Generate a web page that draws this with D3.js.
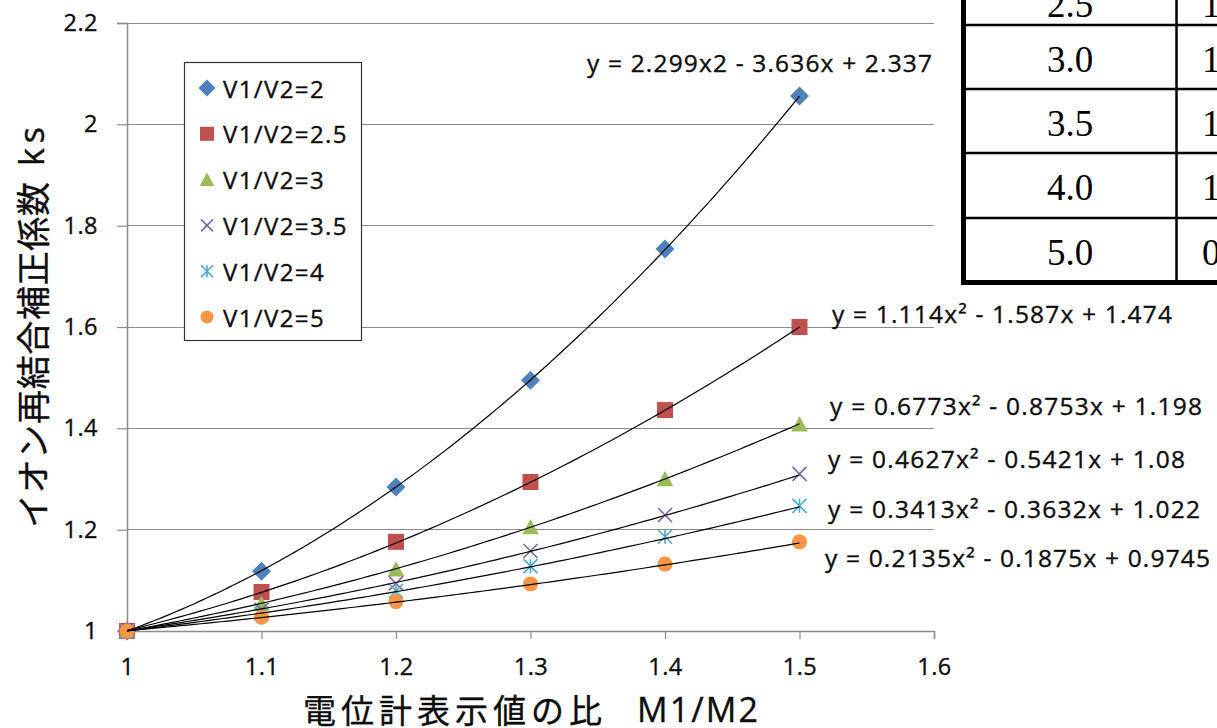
<!DOCTYPE html>
<html>
<head>
<meta charset="utf-8">
<script src="https://cdn.jsdelivr.net/npm/d3@7"></script>
<style>
  html, body { margin: 0; padding: 0; background: #fff; }
  svg { display: block; }
  .ink { stroke: #0d0d0d; stroke-width: 0.35px; }
</style>
</head>
<body>
<svg id="chart" width="1217" height="728"></svg>
<script>
// M1/M2 ratios measured
const ratios = [1.0, 1.1, 1.2, 1.3, 1.4, 1.5];

// Series names (V1/V2)
const seriesNames = ["V1/V2=2", "V1/V2=2.5", "V1/V2=3", "V1/V2=3.5", "V1/V2=4", "V1/V2=5"];

// ks values for each series
const ksV2   = [1.000, 1.118, 1.284, 1.495, 1.754, 2.056];
const ksV25  = [1.000, 1.077, 1.176, 1.294, 1.436, 1.600];
const ksV3   = [1.000, 1.054, 1.122, 1.205, 1.300, 1.408];
const ksV35  = [1.000, 1.042, 1.094, 1.158, 1.229, 1.310];
const ksV4   = [1.000, 1.034, 1.079, 1.128, 1.186, 1.247];
const ksV5   = [1.000, 1.027, 1.058, 1.093, 1.132, 1.176];

// Quadratic trendline coefficients [a, b, c] : y = a x^2 + b x + c
const fitV2  = [2.299, -3.636, 2.337];
const fitV25 = [1.114, -1.587, 1.474];
const fitV3  = [0.6773, -0.8753, 1.198];
const fitV35 = [0.4627, -0.5421, 1.08];
const fitV4  = [0.3413, -0.3632, 1.022];
const fitV5  = [0.2135, -0.1875, 0.9745];

// Trendline equation labels
const fitLabels = [
  "y = 2.299x2 - 3.636x + 2.337",
  "y = 1.114x² - 1.587x + 1.474",
  "y = 0.6773x² - 0.8753x + 1.198",
  "y = 0.4627x² - 0.5421x + 1.08",
  "y = 0.3413x² - 0.3632x + 1.022",
  "y = 0.2135x² - 0.1875x + 0.9745"
];

// Axis ticks
const xTicks = [1, 1.1, 1.2, 1.3, 1.4, 1.5, 1.6];
const yTicks = [1, 1.2, 1.4, 1.6, 1.8, 2, 2.2];

// Side table rows (V1/V2 and first visible digit of coefficient)
const tableLeft  = ["2.5", "3.0", "3.5", "4.0", "5.0"];
const tableRight = ["1", "1", "1", "1", "0"];

const seriesValues = [ksV2, ksV25, ksV3, ksV35, ksV4, ksV5];
const seriesFits = [fitV2, fitV25, fitV3, fitV35, fitV4, fitV5];
const colors = ["#4F81BD", "#C0504D", "#9BBB59", "#8064A2", "#4BACC6", "#F79646"];
const shapes = ["diamond", "square", "triangle", "cross", "asterisk", "circle"];
// label anchor [x, y-center, width]
const labelPos = [[587, 62, 345], [832, 313, 340], [830, 405, 372], [828, 458, 357], [828, 508, 372], [825, 557, 385]];

const svg = d3.select("#chart");
const font = "'Open Sans', sans-serif";
const jfont = "'Noto Sans CJK JP', sans-serif";
const ink = "#0d0d0d";

const x = d3.scaleLinear().domain([1, 1.6]).range([127, 934]);
const y = d3.scaleLinear().domain([1, 2.2]).range([631, 23]);

// Horizontal gridlines
svg.append("g").selectAll("line").data(yTicks.slice(1)).join("line")
  .attr("x1", x(1)).attr("x2", x(1.6))
  .attr("y1", d => y(d)).attr("y2", d => y(d))
  .attr("stroke", "#8c8c8c").attr("stroke-width", 1).attr("shape-rendering", "crispEdges");

// Y axis
const yAxis = svg.append("g").attr("transform", `translate(${x(1)},0)`)
  .call(d3.axisLeft(y).tickValues(yTicks).tickFormat(d3.format("~g")).tickSize(10).tickPadding(19));
// X axis
const xAxis = svg.append("g").attr("transform", `translate(0,${y(1)})`)
  .call(d3.axisBottom(x).tickValues(xTicks).tickFormat(d3.format("~g")).tickSize(8).tickPadding(19));
[yAxis, xAxis].forEach(g => {
  g.select(".domain").attr("stroke", "#8c8c8c").attr("stroke-width", 1.5);
  g.selectAll(".tick line").attr("stroke", "#8c8c8c").attr("stroke-width", 1.2);
  g.selectAll("text").attr("class", "ink").attr("font-family", font).attr("font-size", 23.5)
    .attr("letter-spacing", 0.5).attr("fill", ink);
});

// Marker drawing
function marker(g, shape, color, s) {
  switch (shape) {
    case "diamond":
      g.append("path").attr("d", `M0,${-s/2}L${s/2},0L0,${s/2}L${-s/2},0Z`).attr("fill", color); break;
    case "square":
      g.append("rect").attr("x", -s / 2).attr("y", -s / 2).attr("width", s).attr("height", s).attr("fill", color); break;
    case "triangle":
      g.append("path").attr("d", `M0,${-s*0.5}L${s*0.52},${s*0.45}L${-s*0.52},${s*0.45}Z`).attr("fill", color); break;
    case "cross":
      g.append("path").attr("d", `M${-s/2},${-s/2}L${s/2},${s/2}M${-s/2},${s/2}L${s/2},${-s/2}`)
        .attr("stroke", color).attr("stroke-width", 1.6).attr("fill", "none"); break;
    case "asterisk":
      g.append("path").attr("d", `M${-s/2},${-s/2}L${s/2},${s/2}M${-s/2},${s/2}L${s/2},${-s/2}M0,${-s/2}L0,${s/2}`)
        .attr("stroke", color).attr("stroke-width", 1.6).attr("fill", "none"); break;
    case "circle":
      g.append("circle").attr("r", s / 2).attr("fill", color); break;
  }
}
const markerSize = [19, 16, 16, 14, 14, 15];

// Data markers
seriesValues.forEach((vals, i) => {
  const g = svg.append("g");
  vals.forEach((v, j) => {
    const m = g.append("g").attr("transform", `translate(${x(ratios[j])},${y(v)})`);
    marker(m, shapes[i], colors[i], markerSize[i]);
  });
});

// Trendlines
const xs = d3.range(0, 101).map(k => 1 + 0.5 * k / 100);
const line = d3.line().x(d => x(d[0])).y(d => y(d[1]));
seriesFits.forEach(c => {
  svg.append("path")
    .datum(xs.map(t => [t, c[0] * t * t + c[1] * t + c[2]]))
    .attr("d", line).attr("fill", "none").attr("stroke", "#000").attr("stroke-width", 1.2);
});

// Trendline equation labels
fitLabels.forEach((t, i) => {
  svg.append("text").attr("class", "ink").attr("x", labelPos[i][0]).attr("y", labelPos[i][1])
    .attr("dominant-baseline", "central")
    .attr("textLength", labelPos[i][2]).attr("lengthAdjust", "spacing")
    .attr("font-family", font).attr("font-size", 24.5).attr("fill", ink).text(t);
});

// Legend
const legend = svg.append("g");
legend.append("rect").attr("x", 184.5).attr("y", 62.5).attr("width", 177).attr("height", 278)
  .attr("fill", "#fff").attr("stroke", "#333").attr("stroke-width", 1.2);
seriesNames.forEach((n, i) => {
  const cy = 88 + i * 45.8;
  const m = legend.append("g").attr("transform", `translate(207,${cy})`);
  marker(m, shapes[i], colors[i], markerSize[i] - 2);
  legend.append("text").attr("class", "ink").attr("x", 223).attr("y", cy).attr("dominant-baseline", "central")
    .attr("font-family", font).attr("font-size", 24).attr("letter-spacing", 1.4)
    .attr("fill", ink).text(n);
});

// Y axis title (rotated)
const yTitle = svg.append("g").attr("transform", "translate(31,0) rotate(-90)");
yTitle.append("text").attr("class", "ink").attr("x", -528).attr("y", 0).attr("dominant-baseline", "central")
  .attr("textLength", 346).attr("lengthAdjust", "spacing")
  .attr("font-family", jfont).attr("font-size", 34).attr("fill", ink).text("イオン再結合補正係数");
yTitle.append("text").attr("class", "ink").attr("x", -166).attr("y", 0).attr("dominant-baseline", "central")
  .attr("textLength", 39).attr("lengthAdjust", "spacing")
  .attr("font-family", font).attr("font-size", 34).attr("fill", ink).text("ks");

// X axis title
svg.append("text").attr("class", "ink").attr("x", 303).attr("y", 709).attr("dominant-baseline", "central")
  .attr("textLength", 299).attr("lengthAdjust", "spacing")
  .attr("font-family", jfont).attr("font-size", 33).attr("fill", ink).text("電位計表示値の比");
svg.append("text").attr("class", "ink").attr("x", 637).attr("y", 709).attr("dominant-baseline", "central")
  .attr("textLength", 121).attr("lengthAdjust", "spacing")
  .attr("font-family", font).attr("font-size", 34).attr("fill", ink).text("M1/M2");

// Side table
const tbl = svg.append("g");
const rowLines = [25, 89, 153, 218];
rowLines.forEach(ry => {
  tbl.append("line").attr("x1", 963).attr("x2", 1217).attr("y1", ry).attr("y2", ry)
    .attr("stroke", "#000").attr("stroke-width", 2.5);
});
tbl.append("line").attr("x1", 963).attr("x2", 1217).attr("y1", 282.5).attr("y2", 282.5)
  .attr("stroke", "#000").attr("stroke-width", 5);
tbl.append("line").attr("x1", 963.5).attr("x2", 963.5).attr("y1", 0).attr("y2", 285)
  .attr("stroke", "#000").attr("stroke-width", 5);
tbl.append("line").attr("x1", 1176.5).attr("x2", 1176.5).attr("y1", 0).attr("y2", 282)
  .attr("stroke", "#000").attr("stroke-width", 2.5);
const baselines = [17, 72, 136, 200, 265];
tableLeft.forEach((t, i) => {
  tbl.append("text").attr("x", 1070).attr("y", baselines[i]).attr("text-anchor", "middle")
    .attr("font-family", "'Liberation Serif', serif").attr("font-size", 37).attr("fill", "#000").text(t);
  tbl.append("text").attr("x", 1202).attr("y", baselines[i])
    .attr("font-family", "'Liberation Serif', serif").attr("font-size", 37).attr("fill", "#000").text(tableRight[i]);
});
</script>
</body>
</html>
